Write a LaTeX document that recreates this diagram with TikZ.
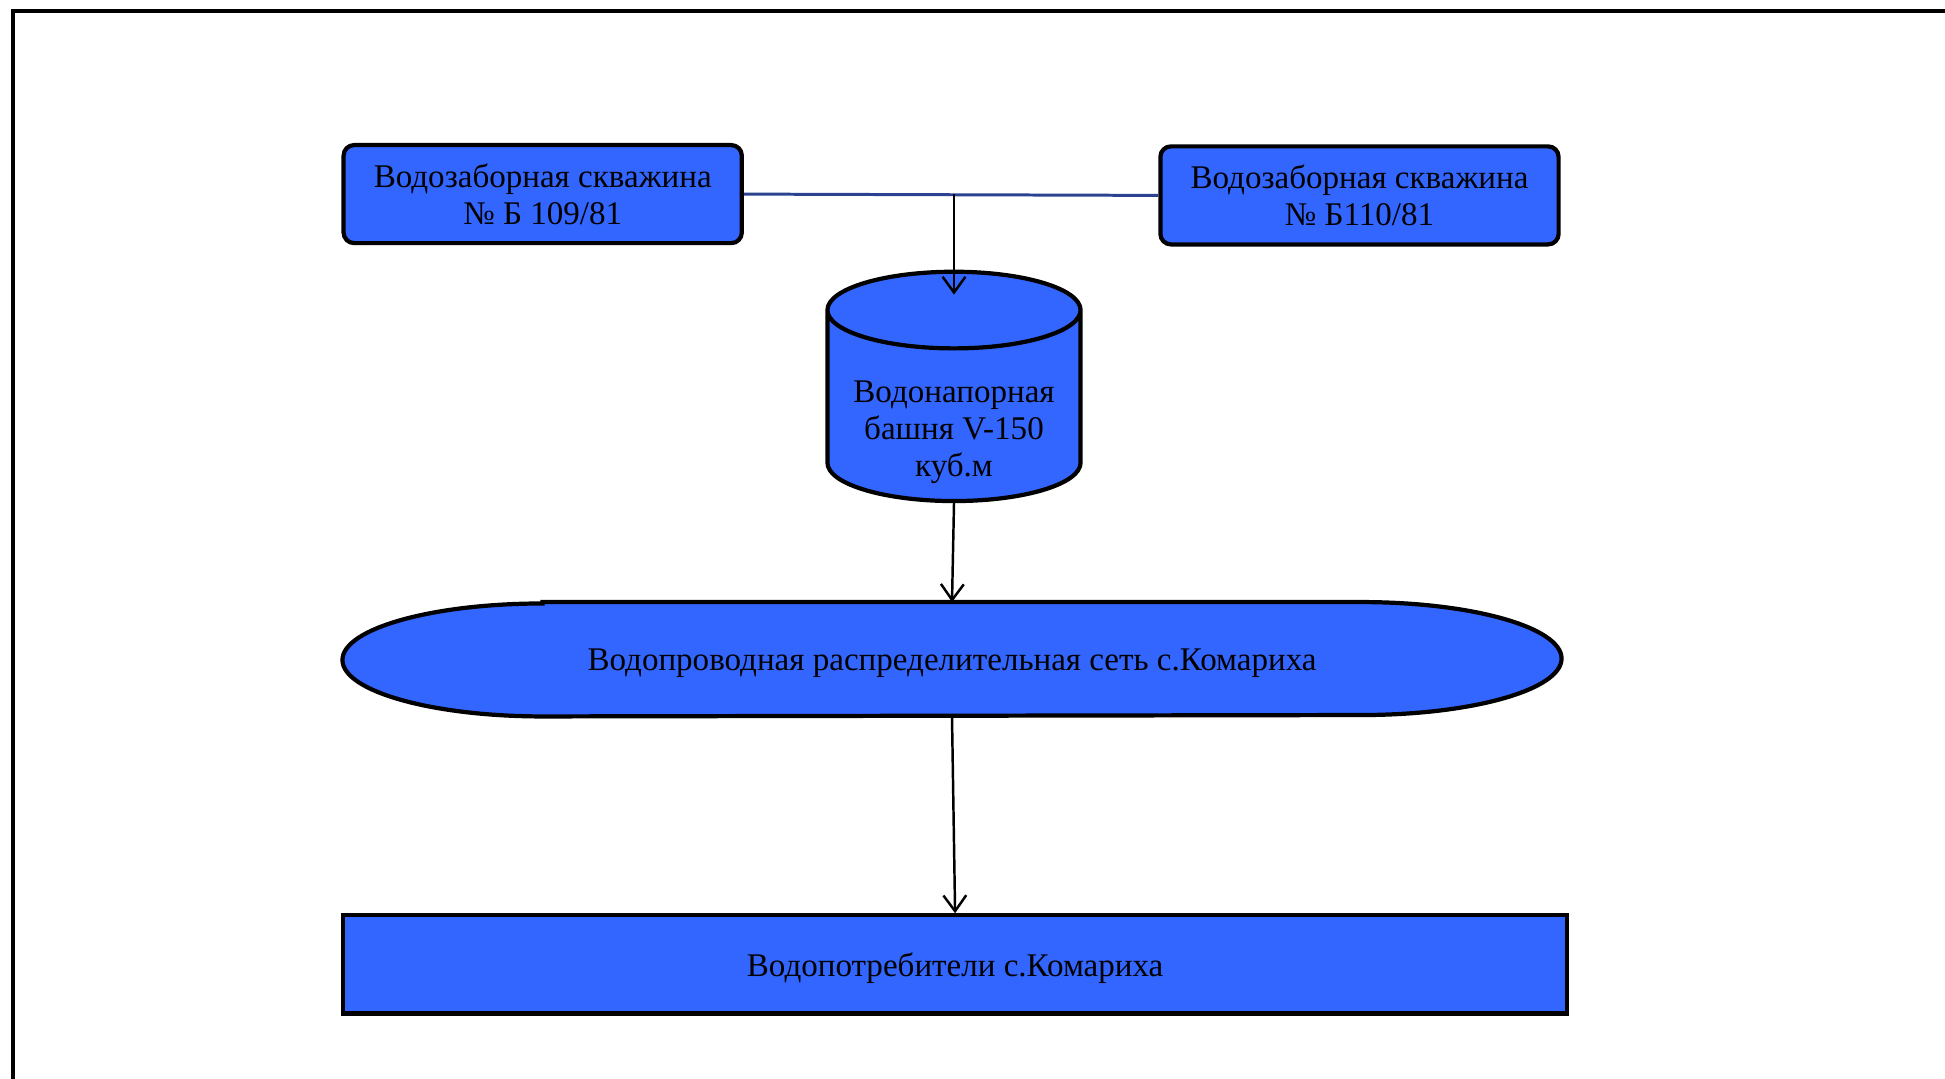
\documentclass[tikz,border=0pt]{standalone}
\usepackage{fontspec}
\setmainfont{Liberation Serif}
\usetikzlibrary{
  arrows.meta,positioning,calc,
  shapes.geometric,backgrounds
}
\definecolor{tankblue}{HTML}{3366FF}
\definecolor{pipenavy}{HTML}{2A4290}
\newcommand{\schemefont}{\fontsize{9.4}{10.5}\selectfont}
% text of the tower, lowered into the body of the tank
\newcommand{\tanktext}[1]{\raisebox{-0.19cm}[\height][\depth]{\begin{tabular}{@{}c@{}}#1\end{tabular}}}
\tikzset{
  wellbox/.style={draw=black, fill=tankblue, rounded corners=3pt, line width=1.2pt,
    minimum width=3.98cm, minimum height=0.98cm, inner sep=2pt,
    align=center, font=\schemefont},
  tower/.style={cylinder, shape border rotate=90, aspect=0.356, draw=black, fill=tankblue,
    line width=1.2pt, minimum width=2.53cm, minimum height=2.07cm, inner sep=2pt,
    align=center, font=\schemefont},
  netshape/.style={draw=black, fill=tankblue, line width=1.2pt},
  netlabel/.style={minimum width=12.17cm, minimum height=1.129cm, inner sep=0pt,
    text depth=0pt, font=\schemefont},
  userbox/.style={draw=black, fill=tankblue, line width=1.2pt,
    minimum width=12.23cm, minimum height=0.98cm, inner sep=2pt,
    text depth=0pt, font=\schemefont},
  pipe/.style={line width=0.85pt, color=pipenavy},
  feed/.style={-{Straight Barb[length=4.5pt,width=6.5pt]}, line width=0.7pt, color=black},
  frame/.style={line width=1pt, color=black},
}

\begin{document}
\begin{tikzpicture}[x=0.01cm,y=-0.01cm]
  \useasboundingbox (0,0) rectangle (1945,1079);
  % sheet border, open to the right and bottom
  \draw[frame] (13,1079) -- (13,11) -- (1945,11);
  % wells
  \node[wellbox] (well1) at (542.7,194.1) {Водозаборная скважина\\№ Б 109/81};
  \node[wellbox] (well2) at (1359.5,195.4) {Водозаборная скважина\\№ Б110/81};
  % tower
  \node[tower, anchor=shape center] (tower) at (954,386.4)
    {\tanktext{Водонапорная\\башня V-150\\куб.м}};
  % network
  \node[netlabel] (net) at (952,659.25) {Водопроводная распределительная сеть с.Комариха};
  \begin{scope}[on background layer]
    \draw[netshape] ([xshift=2cm]net.north west) -- ([xshift=-2cm]net.north east)
      arc[start angle=90, end angle=-90, x radius=2cm, y radius=0.5645cm]
      -- ([xshift=2cm]net.south west)
      arc[start angle=270, end angle=90, x radius=2cm, y radius=0.5645cm] -- cycle;
  \end{scope}
  % consumers
  \node[userbox] (users) at (955.1,964.4) {Водопотребители с.Комариха};
  % connectors
  \coordinate (junc) at (well1.east -| tower.north);
  \draw[pipe] (well1.east) -- (well2.west);
  \draw[feed] (junc) -- ([yshift=-0.25cm]tower.north);
  \draw[feed] (tower.south) -- (net.north);
  \draw[feed] (net.south) -- (users.north);
\end{tikzpicture}
\end{document}
